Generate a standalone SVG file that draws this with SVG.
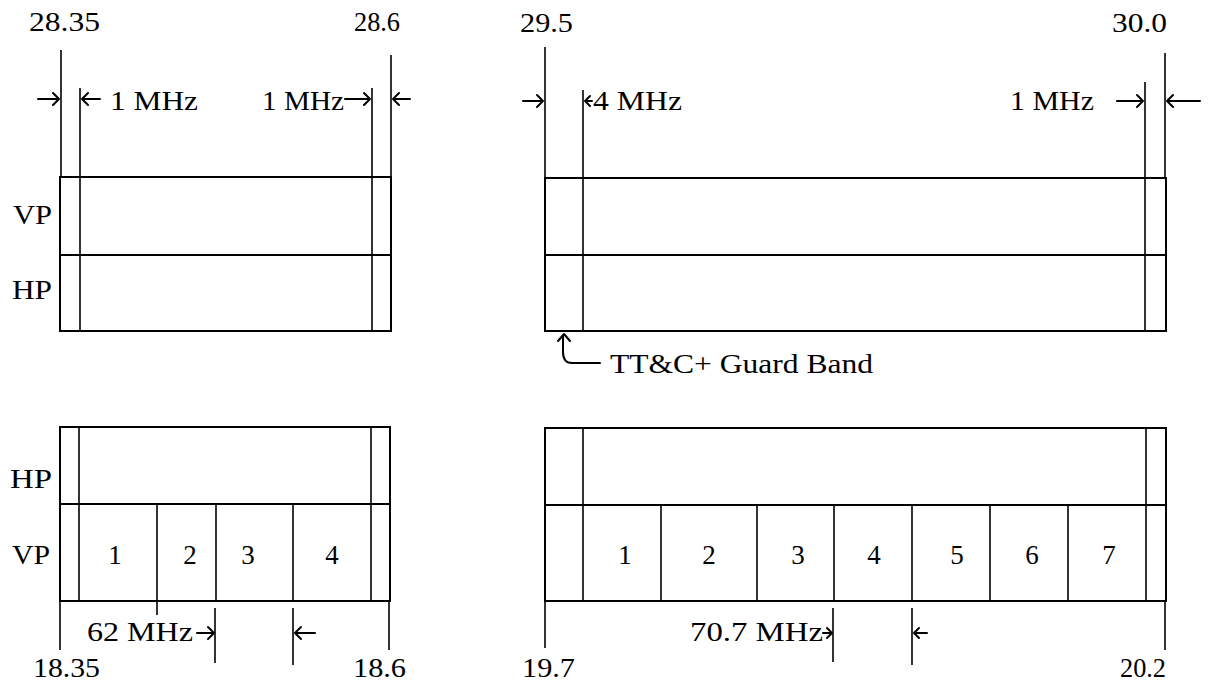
<svg xmlns="http://www.w3.org/2000/svg" width="1209" height="685" viewBox="0 0 1209 685">
<style>
text{font-family:"Liberation Serif","Times New Roman",serif;font-size:27px;fill:#000}
.n{text-anchor:middle}
.box{fill:none;stroke:#000;stroke-width:2}
.ln{stroke:#000;stroke-width:1.6;fill:none}
.ar{stroke:#000;stroke-width:2;fill:none;stroke-linecap:round;stroke-linejoin:round}
</style>
<rect width="1209" height="685" fill="#fff"/>

<g id="uplink-a">
<rect class="box" x="60" y="177" width="331" height="154"/>
<line class="box" x1="60" y1="255" x2="391" y2="255"/>
<line class="ln" x1="80" y1="88" x2="80" y2="331"/>
<line class="ln" x1="372" y1="88" x2="372" y2="331"/>
<line class="ln" x1="61" y1="50" x2="61" y2="177"/>
<line class="ln" x1="391" y1="55" x2="391" y2="177"/>
<text x="29" y="31" textLength="71" lengthAdjust="spacingAndGlyphs">28.35</text>
<text x="354" y="31" textLength="46" lengthAdjust="spacingAndGlyphs">28.6</text>
<text x="110" y="110" textLength="88" lengthAdjust="spacingAndGlyphs">1 MHz</text>
<text x="262" y="110" textLength="82" lengthAdjust="spacingAndGlyphs">1 MHz</text>
<text x="13" y="224" textLength="39" lengthAdjust="spacingAndGlyphs">VP</text>
<text x="12" y="299" textLength="40" lengthAdjust="spacingAndGlyphs">HP</text>
</g>

<g id="uplink-b">
<rect class="box" x="545" y="178" width="621" height="153"/>
<line class="box" x1="545" y1="255" x2="1166" y2="255"/>
<line class="ln" x1="583" y1="90" x2="583" y2="331"/>
<line class="ln" x1="1145" y1="82" x2="1145" y2="331"/>
<line class="ln" x1="545" y1="47" x2="545" y2="178"/>
<line class="ln" x1="1165" y1="53" x2="1165" y2="178"/>
<text x="520" y="32" textLength="53" lengthAdjust="spacingAndGlyphs">29.5</text>
<text x="1112" y="32" textLength="55" lengthAdjust="spacingAndGlyphs">30.0</text>
<text x="593" y="110" textLength="89" lengthAdjust="spacingAndGlyphs">4 MHz</text>
<text x="1010" y="110" textLength="84" lengthAdjust="spacingAndGlyphs">1 MHz</text>
<text x="610" y="373" textLength="263" lengthAdjust="spacingAndGlyphs">TT&amp;C+ Guard Band</text>
</g>

<g id="downlink-a">
<rect class="box" x="60" y="427" width="330" height="174"/>
<line class="box" x1="60" y1="504" x2="390" y2="504"/>
<line class="ln" x1="79" y1="427" x2="79" y2="601"/>
<line class="ln" x1="371" y1="427" x2="371" y2="601"/>
<line class="ln" x1="157" y1="504" x2="157" y2="615"/>
<line class="ln" x1="216" y1="504" x2="216" y2="601"/>
<line class="ln" x1="293" y1="504" x2="293" y2="601"/>
<line class="ln" x1="60" y1="601" x2="60" y2="650"/>
<line class="ln" x1="389" y1="601" x2="389" y2="650"/>
<line class="ln" x1="215" y1="608" x2="215" y2="663"/>
<line class="ln" x1="293" y1="608" x2="293" y2="665"/>
<text x="10" y="488" textLength="42" lengthAdjust="spacingAndGlyphs">HP</text>
<text x="12" y="564" textLength="38" lengthAdjust="spacingAndGlyphs">VP</text>
<text class="n" x="115" y="564">1</text>
<text class="n" x="190" y="564">2</text>
<text class="n" x="248" y="564">3</text>
<text class="n" x="332" y="564">4</text>
<text x="87" y="641" textLength="106" lengthAdjust="spacingAndGlyphs">62 MHz</text>
<text x="33" y="677" textLength="67" lengthAdjust="spacingAndGlyphs">18.35</text>
<text x="353" y="677" textLength="53" lengthAdjust="spacingAndGlyphs">18.6</text>
</g>

<g id="downlink-b">
<rect class="box" x="545" y="428" width="621" height="173"/>
<line class="box" x1="545" y1="505" x2="1166" y2="505"/>
<line class="ln" x1="583" y1="428" x2="583" y2="601"/>
<line class="ln" x1="1146" y1="428" x2="1146" y2="601"/>
<line class="ln" x1="661" y1="505" x2="661" y2="601"/>
<line class="ln" x1="757" y1="505" x2="757" y2="601"/>
<line class="ln" x1="834" y1="505" x2="834" y2="601"/>
<line class="ln" x1="912" y1="505" x2="912" y2="601"/>
<line class="ln" x1="990" y1="505" x2="990" y2="601"/>
<line class="ln" x1="1068" y1="505" x2="1068" y2="601"/>
<line class="ln" x1="545" y1="601" x2="545" y2="648"/>
<line class="ln" x1="1165" y1="601" x2="1165" y2="650"/>
<line class="ln" x1="833" y1="608" x2="833" y2="662"/>
<line class="ln" x1="912" y1="608" x2="912" y2="665"/>
<text class="n" x="625" y="564">1</text>
<text class="n" x="709" y="564">2</text>
<text class="n" x="798" y="564">3</text>
<text class="n" x="874" y="564">4</text>
<text class="n" x="957" y="564">5</text>
<text class="n" x="1032" y="564">6</text>
<text class="n" x="1109" y="564">7</text>
<text x="690" y="641" textLength="133" lengthAdjust="spacingAndGlyphs">70.7 MHz</text>
<text x="522" y="677" textLength="53" lengthAdjust="spacingAndGlyphs">19.7</text>
<text x="1120" y="677" textLength="46" lengthAdjust="spacingAndGlyphs">20.2</text>
</g>

<g id="connectors">
<path class="ar" d="M38,99 H59 M53,93 L59,99 L53,105"/>
<path class="ar" d="M100,99 H82 M88,93 L82,99 L88,105"/>
<path class="ar" d="M345,99 H370 M364,93 L370,99 L364,105"/>
<path class="ar" d="M410,99 H393 M399,93 L393,99 L399,105"/>
<path class="ar" d="M523,101 H543 M537,95 L543,101 L537,107"/>
<path class="ar" d="M592,101 H585 M590,96 L585,101 L590,106"/>
<path class="ar" d="M1117,101 H1143 M1137,95 L1143,101 L1137,107"/>
<path class="ar" d="M1200,101 H1167 M1173,95 L1167,101 L1173,107"/>
<path class="ar" d="M197,633 H214 M208,627 L214,633 L208,639"/>
<path class="ar" d="M315,633 H295 M301,627 L295,633 L301,639"/>
<path class="ar" d="M823,633 H832 M827,628 L832,633 L827,638"/>
<path class="ar" d="M927,633 H914 M919,628 L914,633 L919,638"/>
<path class="ar" d="M600,363 H572 Q563,363 563,352 V336 M558,341 L564,334 L570,341"/>
</g>
</svg>
